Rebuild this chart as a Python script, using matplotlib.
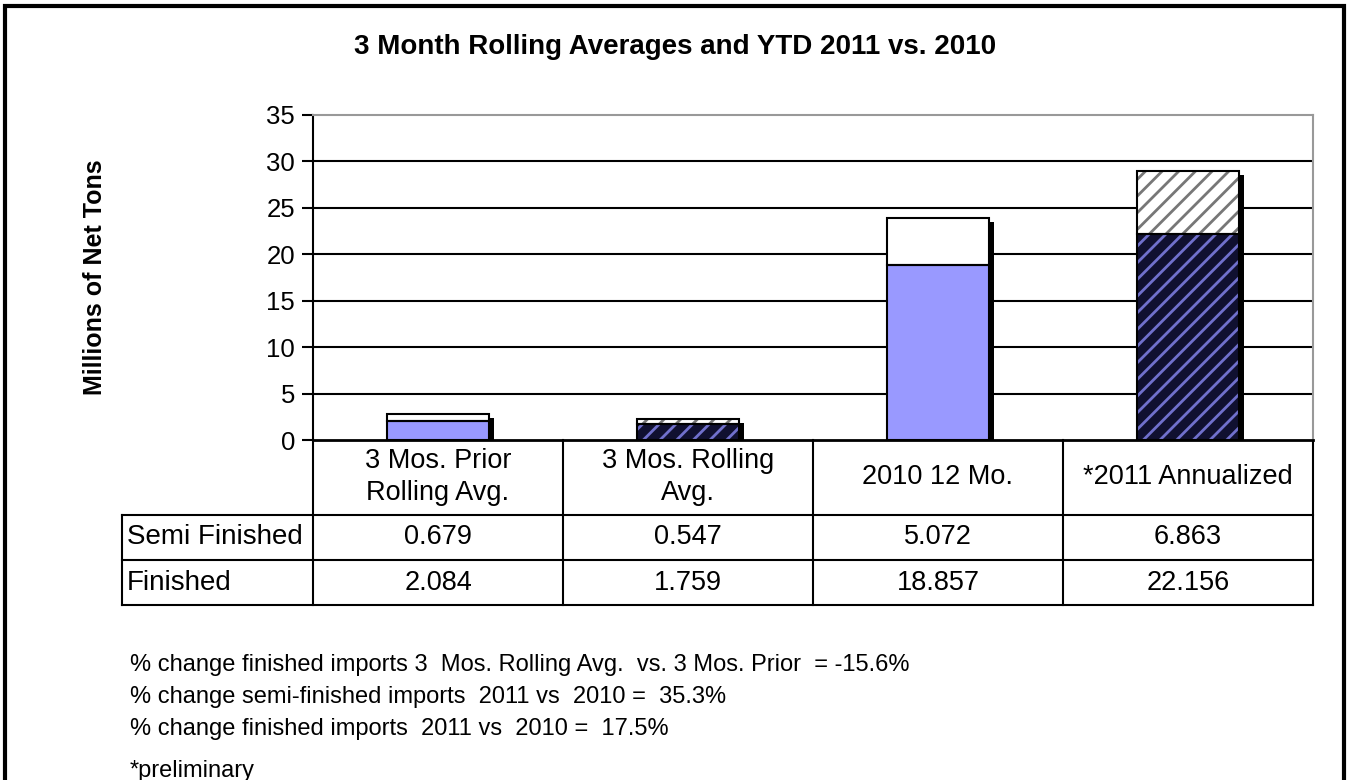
import matplotlib
matplotlib.use('Agg')
import matplotlib.pyplot as plt
import matplotlib.transforms as mtransforms
from matplotlib.patches import Rectangle
from matplotlib.lines import Line2D

plt.rcParams['font.family'] = ['Liberation Sans', 'DejaVu Sans']
plt.rcParams['hatch.linewidth'] = 2.0

# data
categories = ['3 Mos. Prior\nRolling Avg.', '3 Mos. Rolling\nAvg.', '2010 12 Mo.', '*2011 Annualized']
finished = [2.084, 1.759, 18.857, 22.156]
semi_finished = [0.679, 0.547, 5.072, 6.863]
row_labels = ['Semi Finished', 'Finished']
hatched = [False, True, False, True]
notes = [
    '% change finished imports 3  Mos. Rolling Avg.  vs. 3 Mos. Prior  = -15.6%',
    '% change semi-finished imports  2011 vs  2010 =  35.3%',
    '% change finished imports  2011 vs  2010 =  17.5%',
]

W, H = 1348, 780
fig = plt.figure(figsize=(W / 100, H / 100), dpi=100)
ax = fig.add_axes([313 / W, 1 - 440 / H, 1000 / W, 325 / H])

x = list(range(len(categories)))
bw = 0.41
totals = [f + s for f, s in zip(finished, semi_finished)]

# shadows behind the bars
shadow_tr = ax.transData + mtransforms.ScaledTranslation(5 / 100, -4 / 100, fig.dpi_scale_trans)
ax.bar(x, totals, bw, color='black', linewidth=0, transform=shadow_tr, zorder=2)

for i in x:
    if hatched[i]:
        ax.bar(i, finished[i], bw, color='#101030', edgecolor='#7070cc', hatch='//', linewidth=0, zorder=3)
        ax.bar(i, semi_finished[i], bw, bottom=finished[i], color='white', edgecolor='#777777',
               hatch='//', linewidth=0, zorder=3)
    else:
        ax.bar(i, finished[i], bw, color='#9999ff', linewidth=0, zorder=3)
        ax.bar(i, semi_finished[i], bw, bottom=finished[i], color='white', linewidth=0, zorder=3)
    ax.bar(i, finished[i], bw, fill=False, edgecolor='black', linewidth=1.5, zorder=4)
    ax.bar(i, semi_finished[i], bw, bottom=finished[i], fill=False, edgecolor='black', linewidth=1.5, zorder=4)

ax.set_xlim(-0.5, len(categories) - 0.5)
ax.set_ylim(0, 35)
ax.set_yticks(range(0, 36, 5))
ax.set_xticks([])
ax.tick_params(axis='y', labelsize=18.5, length=8, width=1.5, direction='out', pad=5)
for yv in range(5, 35, 5):
    ax.axhline(yv, color='black', lw=1.5, zorder=1)
ax.spines['top'].set_color('#999999')
ax.spines['right'].set_color('#999999')
ax.spines['top'].set_linewidth(1.5)
ax.spines['right'].set_linewidth(1.5)
ax.spines['left'].set_linewidth(1.5)
ax.spines['bottom'].set_linewidth(2)
ax.set_ylabel('Millions of Net Tons', fontsize=18, fontweight='bold')
ax.yaxis.set_label_coords(-0.206, 0.5)

# data table below the plot
tr = mtransforms.blended_transform_factory(ax.transData, ax.transAxes)
px = 1 / 325.0
y_head = -75 * px
y_semi = -120 * px
y_fin = -165 * px
lab_left = -0.5 - 191 / 250.0
kw = dict(transform=tr, color='black', lw=1.5, clip_on=False)
for yy in (y_head, y_semi, y_fin):
    ax.add_line(Line2D([lab_left, len(categories) - 0.5], [yy, yy], **kw))
ax.add_line(Line2D([lab_left, lab_left], [y_head, y_fin], **kw))
for b in range(len(categories) + 1):
    ax.add_line(Line2D([b - 0.5, b - 0.5], [0, y_fin], **kw))

for i, c in enumerate(categories):
    ax.text(i, y_head / 2, c, transform=tr, ha='center', va='center', fontsize=19.5, linespacing=1.3)
    ax.text(i, (y_head + y_semi) / 2, f'{semi_finished[i]:.3f}', transform=tr, ha='center', va='center', fontsize=19.5)
    ax.text(i, (y_semi + y_fin) / 2, f'{finished[i]:.3f}', transform=tr, ha='center', va='center', fontsize=19.5)
for lab, (a, b) in zip(row_labels, [(y_head, y_semi), (y_semi, y_fin)]):
    ax.text(lab_left + 0.02, (a + b) / 2, lab, transform=tr, ha='left', va='center', fontsize=20)

fig.text(675 / W, 1 - 47 / H, '3 Month Rolling Averages and YTD 2011 vs. 2010', ha='center', va='center',
         fontsize=20, fontweight='bold')

for k, n in enumerate(notes):
    fig.text(130 / W, 1 - (665 + 32 * k) / H, n, ha='left', va='center', fontsize=17)
fig.text(130 / W, 1 - 771 / H, '*preliminary', ha='left', va='center', fontsize=17)

# outer frame
fig.patches.append(Rectangle((5 / W, -0.05), 1339 / W, 1 - 6 / H + 0.05, transform=fig.transFigure,
                             fill=False, edgecolor='black', linewidth=3))

fig.savefig('out.png', dpi=100)
